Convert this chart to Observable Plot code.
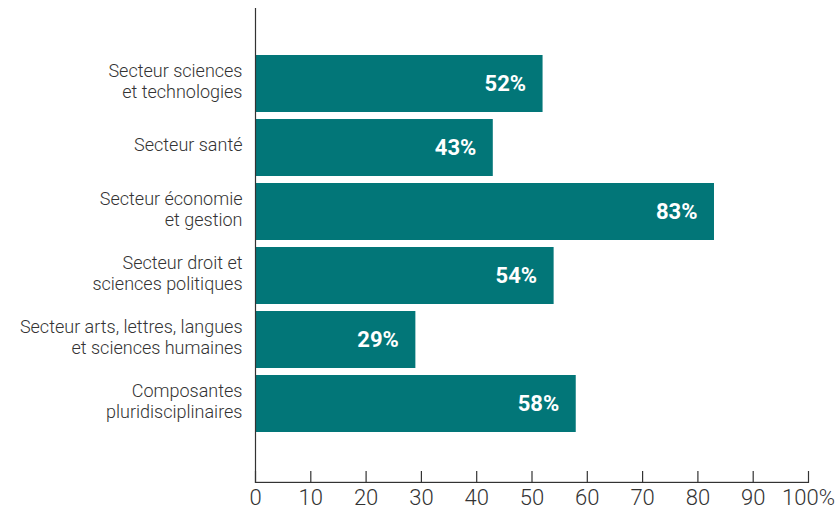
<!DOCTYPE html>
<html>
<head>
<meta charset="utf-8">
<script src="https://cdn.jsdelivr.net/npm/d3@7"></script>
<script src="https://cdn.jsdelivr.net/npm/@observablehq/plot@0.6"></script>
<style>
  html, body { margin: 0; padding: 0; background: #fff; }
  #chart svg { display: block; }
</style>
</head>
<body>
<div id="chart"></div>
<script>
const categories = [
  "Secteur sciences\net technologies",
  "Secteur santé",
  "Secteur économie\net gestion",
  "Secteur droit et\nsciences politiques",
  "Secteur arts, lettres, langues\net sciences humaines",
  "Composantes\npluridisciplinaires"
];
const values = [52, 43, 83, 54, 29, 58];
const xTicks = [0, 10, 20, 30, 40, 50, 60, 70, 80, 90, 100];
const xTickLabels = ["0", "10", "20", "30", "40", "50", "60", "70", "80", "90", "100%"];

const data = categories.map((c, i) => ({category: c, value: values[i]}));
const ticks = xTicks.map((t, i) => ({t, label: xTickLabels[i]}));

const W = 839, H = 516;
const mTop = 8, mBottom = 33;
const frameH = H - mTop - mBottom;
const FONT = "'Roboto', sans-serif";
const teal = "#027678";
const ink = "#333333";

const chart = Plot.plot({
  width: W,
  height: H,
  marginLeft: 255,
  marginRight: 31,
  marginTop: mTop,
  marginBottom: mBottom,
  style: {fontFamily: FONT, color: ink, background: "#fff"},
  x: {domain: [0, 100], axis: null},
  y: {domain: categories, range: [50.5, 435.7], paddingInner: 0.11, paddingOuter: 0.055, axis: null},
  marks: [
    Plot.barX(data, {x: "value", y: "category", fill: teal}),
    Plot.text(data, {
      x: "value", y: "category", text: d => d.value + "%",
      textAnchor: "end", dx: -17, fill: "white", fontWeight: "bold", fontSize: 22
    }),
    Plot.axisY({
      tickSize: 0, tickPadding: 13, fontSize: 18, lineHeight: 1.12, dy: -3,
      label: null, fill: ink, fontWeight: 300
    }),
    Plot.ruleX([0], {stroke: ink, strokeWidth: 1.2}),
    Plot.rect([{}], {x1: () => 0, x2: () => 100, insetTop: frameH - 1.2, fill: ink}),
    Plot.tickX(ticks, {x: "t", insetTop: frameH - 12, stroke: ink, strokeWidth: 1.2}),
    Plot.text(ticks, {
      x: "t", text: "label", frameAnchor: "bottom", dy: 21,
      fontSize: 22, fill: ink, textAnchor: "middle", fontWeight: 300
    })
  ]
});
document.getElementById("chart").appendChild(chart);
</script>
</body>
</html>
